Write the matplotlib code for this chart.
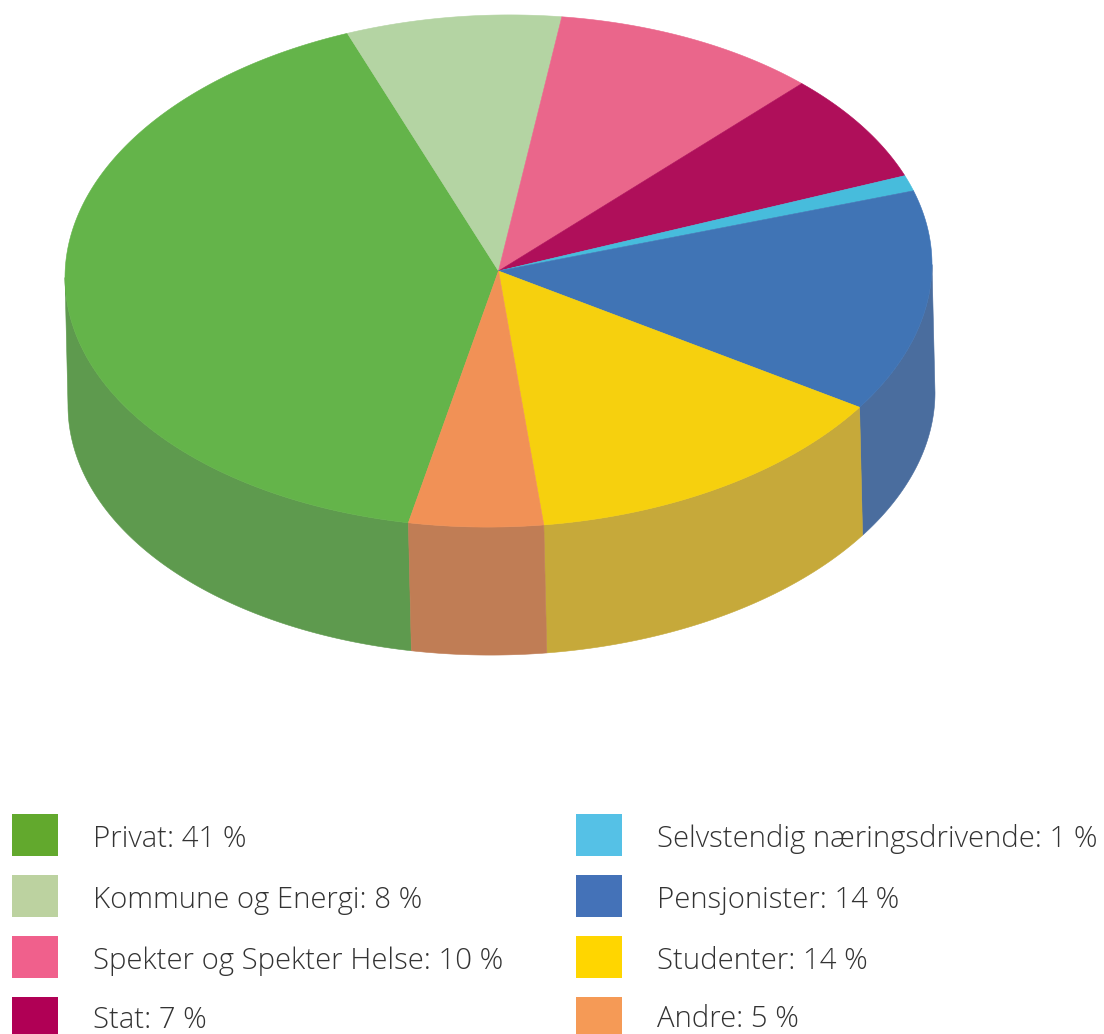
"""plot.py - tilted 3D style pie of customer groups with a two column legend."""
import matplotlib
matplotlib.use("Agg")
import matplotlib.pyplot as plt
import numpy as np

names = ["Privat", "Kommune og Energi", "Spekter og Spekter Helse", "Stat",
         "Selvstendig næringsdrivende", "Pensjonister", "Studenter", "Andre"]
values = [41, 8, 10, 7, 1, 14, 14, 5]
top_colors = ["#64b44a", "#b4d4a3", "#ea668b", "#af0f5a",
              "#47bcdc", "#4074b5", "#f6d00e", "#f19156"]
side_colors = ["#5e9a4e", "#a0b890", "#c0607a", "#8a1a50",
               "#4aa0b8", "#4a6d9e", "#c6a93a", "#c07d55"]
legend_colors = ["#62a92d", "#bcd2a0", "#f0608c", "#b00055",
                 "#55c1e6", "#4472b8", "#ffd600", "#f59a56"]

# ellipse geometry in pixels
CX, CY, A, B = 498.5, 271, 433.5, 256
SHEAR = -0.015
DX, DY = 3, 128
START = 258.0


def rim(t_deg, dx=0, dy=0):
    t = np.radians(t_deg)
    x = CX + A * np.cos(t)
    y = CY - B * np.sin(t) + SHEAR * (x - CX)
    return x + dx, y + dy


fig = plt.figure(figsize=(11.04, 10.34), dpi=100)
ax = fig.add_axes([0, 0, 1, 1])
ax.set_xlim(0, 1104)
ax.set_ylim(1034, 0)
ax.axis("off")

edges = START - np.cumsum([0] + values) * 3.6

# side walls first, only the part of the rim that faces the viewer
for i in range(len(values)):
    hi, lo = edges[i], edges[i + 1]
    for turn in (0, 360, -360):
        a2, b2 = min(hi + turn, 360), max(lo + turn, 180)
        if a2 > b2:
            ts = np.linspace(b2, a2, 200)
            x1, y1 = rim(ts)
            x2, y2 = rim(ts[::-1], DX, DY)
            ax.fill(np.r_[x1, x2], np.r_[y1, y2], color=side_colors[i], lw=0.4)

# top face
for i in range(len(values)):
    ts = np.linspace(edges[i], edges[i + 1], 300)
    x, y = rim(ts)
    ax.fill(np.r_[CX, x], np.r_[CY, y], color=top_colors[i], lw=0.4)

# legend, two columns of four
rows_left = [839, 900, 961, 1020]
rows_right = [839, 900, 961, 1019]
for i, (name, val) in enumerate(zip(names, values)):
    col = i // 4
    y = rows_left[i] if col == 0 else rows_right[i - 4]
    box_y = [835, 896, 957, 1018][i % 4]
    box_x, box_w, tx = (12, 46, 93) if col == 0 else (576, 46, 657)
    ax.add_patch(plt.Rectangle((box_x, box_y - 21), box_w, 42, color=legend_colors[i], lw=0))
    ax.text(tx, y, f"{name}: {val} %", fontsize=21.1, family="Open Sans", fontweight="light",
            color="#333333", va="center", ha="left")

fig.savefig("out.png", dpi=100)
